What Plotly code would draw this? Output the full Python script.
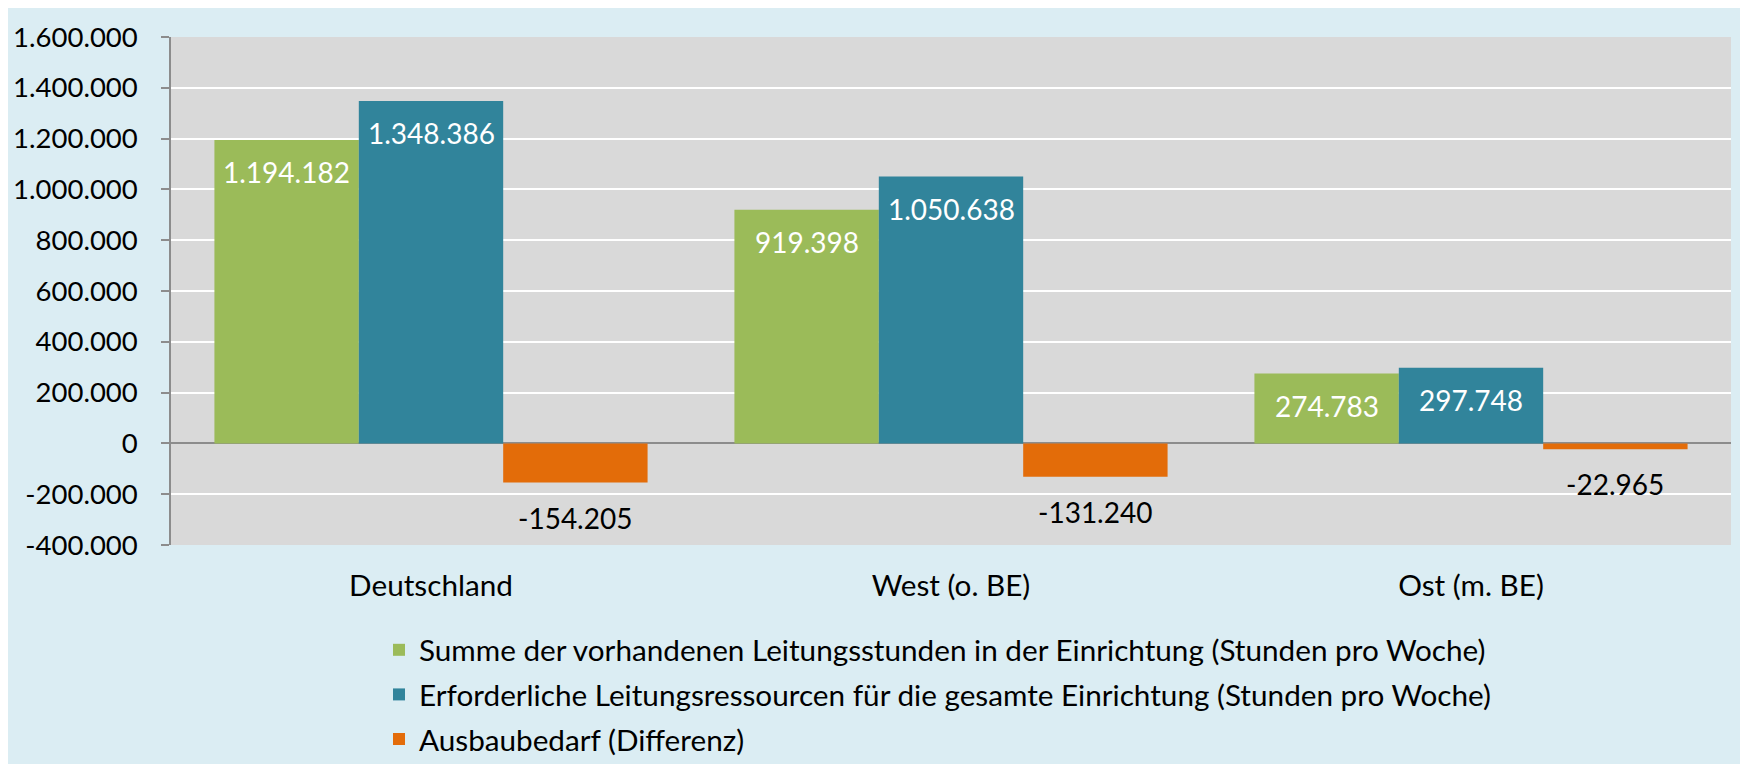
import plotly.graph_objects as go

categories = ["Deutschland", "West (o. BE)", "Ost (m. BE)"]
vorhanden = [1194182, 919398, 274783]
erforderlich = [1348386, 1050638, 297748]
ausbau = [-154205, -131240, -22965]
series_names = [
    "Summe der vorhandenen Leitungsstunden in der Einrichtung (Stunden pro Woche)",
    "Erforderliche Leitungsressourcen für die gesamte Einrichtung (Stunden pro Woche)",
    "Ausbaubedarf (Differenz)",
]
y_ticks = [-400000, -200000, 0, 200000, 400000, 600000, 800000, 1000000, 1200000, 1400000, 1600000]
y_tick_labels = ["-400.000", "-200.000", "0", "200.000", "400.000", "600.000", "800.000",
                 "1.000.000", "1.200.000", "1.400.000", "1.600.000"]


def de(v):
    return f"{v:,}".replace(",", ".")


FONT = "Lato"
FS_NUM = 28
FS_TICK = 27.5
FS_TXT = 29.7
colors = ["#9BBB59", "#31849B", "#E36C09"]
BARGAP = 0.167
all_series = [vorhanden, erforderlich, ausbau]

fig = go.Figure()
for i, (vals, name, col) in enumerate(zip(all_series, series_names, colors)):
    fig.add_trace(go.Bar(
        x=categories, y=vals, name=name, marker=dict(color=col, line=dict(width=0)),
        legendgroup=f"g{i}", hoverinfo="skip",
    ))

# data labels as annotations placed via the axes' scales
annotations = []
slot = (1 - BARGAP) / len(all_series)
for i, vals in enumerate(all_series):
    for j, v in enumerate(vals):
        inside = v > 0
        annotations.append(dict(
            x=j + (i - 1) * slot, y=v, xref="x", yref="y",
            text=de(v), showarrow=False, xanchor="center", yanchor="middle",
            yshift=-32 if inside else -35,
            font=dict(family=FONT, size=FS_NUM, color="white" if inside else "black"),
        ))

W, H = 1748, 764
L, R, T, B = 163, 25, 29, 227
ph = H - T - B
W_plot = W - L - R


def px_to_paper_y(py):
    return (H - B - py) / ph


def px_to_paper_x(px):
    return (px - L) / W_plot


fig.update_layout(
    width=W, height=H,
    margin=dict(l=L, r=R, t=T, b=B, pad=0, autoexpand=False),
    paper_bgcolor="#DBEDF3", plot_bgcolor="#D9D9D9",
    font=dict(family=FONT, size=FS_TXT, color="black"),
    barmode="group", bargap=BARGAP, bargroupgap=0,
    showlegend=True,
    legend=dict(
        x=px_to_paper_x(371), y=px_to_paper_y(616), xanchor="left", yanchor="top",
        orientation="v", bgcolor="rgba(0,0,0,0)", font=dict(family=FONT, size=FS_TXT),
        tracegroupgap=3, traceorder="grouped",
    ),
    annotations=annotations,
    xaxis=dict(
        type="category", showgrid=False, zeroline=False, showline=False, automargin=False,
        ticks="", ticklabelstandoff=20, tickfont=dict(family=FONT, size=FS_TXT),
        range=[-0.5, 2.5],
    ),
    xaxis2=dict(
        overlaying="x", anchor="free", position=0.2, type="linear", automargin=False,
        range=[-0.5, 2.5], tickvals=[-0.5, 0.5, 1.5, 2.5], ticks="outside",
        ticklen=8, tickcolor="#8C8C8C", tickwidth=1.5, showline=True,
        linecolor="#8C8C8C", linewidth=1.5, showticklabels=False,
        showgrid=False, zeroline=False,
    ),
    yaxis=dict(
        range=[-400000, 1600000], tickvals=y_ticks, ticktext=y_tick_labels, automargin=False,
        showgrid=True, gridcolor="white", gridwidth=2,
        zeroline=True, zerolinecolor="#8C8C8C", zerolinewidth=1.5,
        showline=True, linecolor="#8C8C8C", linewidth=1.5,
        ticks="outside", ticklen=8, tickcolor="#8C8C8C", tickwidth=1.5,
        ticklabelstandoff=18, tickfont=dict(family=FONT, size=FS_TICK),
    ),
)

fig.write_html("out.html")
